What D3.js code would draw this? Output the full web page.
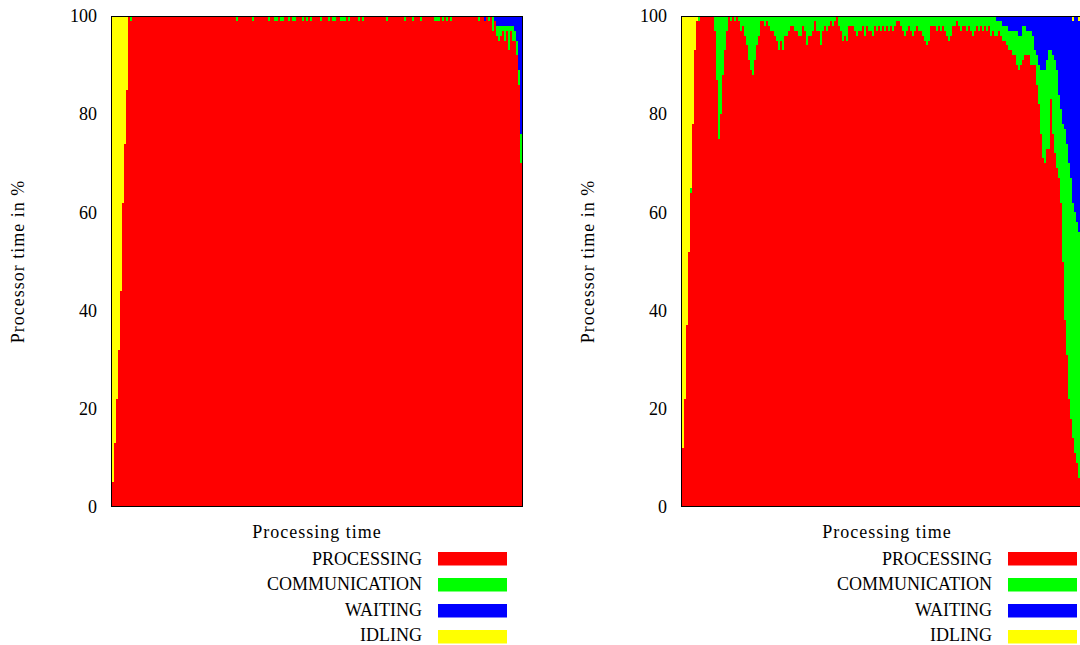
<!DOCTYPE html>
<html>
<head>
<meta charset="utf-8">
<script src="https://cdn.jsdelivr.net/npm/d3@7"></script>
<style>
  html, body { margin: 0; padding: 0; background: #fff; }
  svg { display: block; font-family: "Liberation Serif", "Times New Roman", serif; }
</style>
</head>
<body>
<svg id="chart" width="1080" height="645"></svg>
<script>
// Processor state shares (percent) per time step, two runs side by side.
const timeSteps = 205;
const yTicks = [0, 20, 40, 60, 80, 100];
const stateKeys = ["processing", "communication", "waiting", "idling"];
const legendLabels = ["PROCESSING", "COMMUNICATION", "WAITING", "IDLING"];
const stateColors = ["#ff0000", "#00ff00", "#0000ff", "#ffff00"];
const yTitle = "Processor time in %";
const xTitle = "Processing time";

// Run 1
const leftProcessing = [
  5,13,22,32,44,62,74,85,100,99,
  100,100,100,100,100,100,100,100,100,100,
  100,100,100,100,100,100,100,100,100,100,
  100,100,100,100,100,100,100,100,100,100,
  100,100,100,100,100,100,100,100,100,100,
  100,100,100,100,100,100,100,100,100,100,
  100,100,99,100,100,100,100,100,100,100,
  99,100,100,100,100,100,100,100,99,100,
  100,99,99,100,99,99,100,100,99,100,
  99,99,100,100,100,99,100,99,100,99,
  100,100,100,100,99,100,100,100,99,100,
  99,99,100,100,99,99,99,100,99,100,
  100,100,100,99,100,99,100,100,100,100,
  100,100,100,100,100,100,100,99,100,100,
  100,100,100,100,100,100,99,100,100,100,
  99,100,100,100,99,100,100,100,100,100,
  100,99,99,99,100,99,100,99,100,99,
  100,100,100,100,100,100,100,100,100,100,
  100,100,100,99,100,100,99,100,99,100,
  97,99,96,95,96,97,95,97,93,97,
  95,95,92,86,70
];
const leftCommunication = [
  0,0,0,0,0,0,0,0,0,1,
  0,0,0,0,0,0,0,0,0,0,
  0,0,0,0,0,0,0,0,0,0,
  0,0,0,0,0,0,0,0,0,0,
  0,0,0,0,0,0,0,0,0,0,
  0,0,0,0,0,0,0,0,0,0,
  0,0,1,0,0,0,0,0,0,0,
  1,0,0,0,0,0,0,0,1,0,
  0,1,1,0,1,1,0,0,1,0,
  1,1,0,0,0,1,0,1,0,1,
  0,0,0,0,1,0,0,0,1,0,
  1,1,0,0,1,1,1,0,1,0,
  0,0,0,1,0,1,0,0,0,0,
  0,0,0,0,0,0,0,1,0,0,
  0,0,0,0,0,0,1,0,0,0,
  1,0,0,0,1,0,0,0,0,0,
  0,1,1,1,0,1,0,1,0,1,
  0,0,0,0,0,0,0,0,0,0,
  0,0,0,1,0,0,0,0,1,0,
  3,0,2,3,2,1,3,1,5,1,
  3,2,3,3,6
];
const leftWaiting = [
  0,0,0,0,0,0,0,0,0,0,
  0,0,0,0,0,0,0,0,0,0,
  0,0,0,0,0,0,0,0,0,0,
  0,0,0,0,0,0,0,0,0,0,
  0,0,0,0,0,0,0,0,0,0,
  0,0,0,0,0,0,0,0,0,0,
  0,0,0,0,0,0,0,0,0,0,
  0,0,0,0,0,0,0,0,0,0,
  0,0,0,0,0,0,0,0,0,0,
  0,0,0,0,0,0,0,0,0,0,
  0,0,0,0,0,0,0,0,0,0,
  0,0,0,0,0,0,0,0,0,0,
  0,0,0,0,0,0,0,0,0,0,
  0,0,0,0,0,0,0,0,0,0,
  0,0,0,0,0,0,0,0,0,0,
  0,0,0,0,0,0,0,0,0,0,
  0,0,0,0,0,0,0,0,0,0,
  0,0,0,0,0,0,0,0,0,0,
  0,0,0,0,0,0,1,0,0,0,
  0,1,2,2,2,2,2,2,2,2,
  2,3,5,11,24
];
const leftIdling = [
  95,87,78,68,56,38,26,15,0,0,
  0,0,0,0,0,0,0,0,0,0,
  0,0,0,0,0,0,0,0,0,0,
  0,0,0,0,0,0,0,0,0,0,
  0,0,0,0,0,0,0,0,0,0,
  0,0,0,0,0,0,0,0,0,0,
  0,0,0,0,0,0,0,0,0,0,
  0,0,0,0,0,0,0,0,0,0,
  0,0,0,0,0,0,0,0,0,0,
  0,0,0,0,0,0,0,0,0,0,
  0,0,0,0,0,0,0,0,0,0,
  0,0,0,0,0,0,0,0,0,0,
  0,0,0,0,0,0,0,0,0,0,
  0,0,0,0,0,0,0,0,0,0,
  0,0,0,0,0,0,0,0,0,0,
  0,0,0,0,0,0,0,0,0,0,
  0,0,0,0,0,0,0,0,0,0,
  0,0,0,0,0,0,0,0,0,0,
  0,0,0,0,0,0,0,0,0,0,
  0,0,0,0,0,0,0,0,0,0,
  0,0,0,0,0
];

// Run 2
const rightProcessing = [
  12,22,37,52,64,78,93,99,99,100,
  100,100,100,100,100,100,97,87,75,80,
  88,93,97,100,99,100,99,100,99,97,
  98,96,94,91,89,88,91,94,96,99,
  99,98,99,98,97,97,96,95,93,95,
  93,96,96,97,98,98,97,97,96,96,
  98,97,94,96,96,97,99,97,97,94,
  97,98,97,98,99,98,99,100,98,97,
  95,96,95,98,98,98,97,96,97,97,
  98,96,98,97,97,96,98,97,98,97,
  98,97,98,97,98,97,98,99,99,98,
  97,96,97,98,97,96,97,98,97,97,
  96,95,94,95,98,98,98,97,98,97,
  98,97,96,95,96,98,98,99,98,97,
  98,98,97,98,97,96,97,98,97,98,
  97,98,97,98,96,97,96,96,97,96,
  95,95,94,93,93,92,92,90,89,90,
  91,92,92,92,90,90,90,86,82,76,
  71,70,73,73,83,76,72,69,67,62,
  50,38,31,22,18,14,11,9,6
];
const rightCommunication = [
  0,0,0,0,1,0,0,0,1,0,
  0,0,0,0,0,0,3,13,25,20,
  12,7,3,0,1,0,1,0,1,3,
  2,4,6,9,11,12,9,6,4,1,
  1,2,1,2,3,3,4,5,7,5,
  7,4,4,3,2,2,3,3,4,4,
  2,3,6,4,4,3,1,3,3,6,
  3,2,3,2,1,2,1,0,2,3,
  5,4,5,2,2,2,3,4,3,3,
  2,4,2,3,3,4,2,3,2,3,
  2,3,2,3,2,3,2,1,1,2,
  3,4,3,2,3,4,3,2,3,3,
  4,5,6,5,2,2,2,3,2,3,
  2,3,4,5,4,2,2,1,2,3,
  2,2,3,2,3,4,3,2,3,2,
  3,2,3,2,4,3,4,3,2,3,
  3,3,4,4,4,5,5,7,7,6,
  7,6,5,5,7,6,3,6,8,13,
  18,19,18,20,10,16,19,20,17,19,
  28,39,43,48,49,48,49,49,50
];
const rightWaiting = [
  0,0,0,0,0,0,0,0,0,0,
  0,0,0,0,0,0,0,0,0,0,
  0,0,0,0,0,0,0,0,0,0,
  0,0,0,0,0,0,0,0,0,0,
  0,0,0,0,0,0,0,0,0,0,
  0,0,0,0,0,0,0,0,0,0,
  0,0,0,0,0,0,0,0,0,0,
  0,0,0,0,0,0,0,0,0,0,
  0,0,0,0,0,0,0,0,0,0,
  0,0,0,0,0,0,0,0,0,0,
  0,0,0,0,0,0,0,0,0,0,
  0,0,0,0,0,0,0,0,0,0,
  0,0,0,0,0,0,0,0,0,0,
  0,0,0,0,0,0,0,0,0,0,
  0,0,0,0,0,0,0,0,0,0,
  0,0,0,0,0,0,0,1,1,1,
  2,2,2,3,3,3,3,3,4,4,
  2,2,3,3,3,4,7,8,10,11,
  11,11,9,7,7,8,9,11,16,19,
  22,23,26,30,33,37,40,42,43
];
const rightIdling = [
  88,78,63,48,35,22,7,1,0,0,
  0,0,0,0,0,0,0,0,0,0,
  0,0,0,0,0,0,0,0,0,0,
  0,0,0,0,0,0,0,0,0,0,
  0,0,0,0,0,0,0,0,0,0,
  0,0,0,0,0,0,0,0,0,0,
  0,0,0,0,0,0,0,0,0,0,
  0,0,0,0,0,0,0,0,0,0,
  0,0,0,0,0,0,0,0,0,0,
  0,0,0,0,0,0,0,0,0,0,
  0,0,0,0,0,0,0,0,0,0,
  0,0,0,0,0,0,0,0,0,0,
  0,0,0,0,0,0,0,0,0,0,
  0,0,0,0,0,0,0,0,0,0,
  0,0,0,0,0,0,0,0,0,0,
  0,0,0,0,0,0,0,0,0,0,
  0,0,0,0,0,0,0,0,0,0,
  0,0,0,0,0,0,0,0,0,0,
  0,0,0,0,0,0,0,0,0,0,
  0,0,0,0,0,1,0,0,1
];

const panels = [
  { offset: 0,   series: [leftProcessing, leftCommunication, leftWaiting, leftIdling] },
  { offset: 570, series: [rightProcessing, rightCommunication, rightWaiting, rightIdling] }
];

const svg = d3.select("#chart");
const fontSize = 18;
const plot = { left: 112, right: 522, top: 16, bottom: 507 };

panels.forEach(panel => {
  const g = svg.append("g").attr("transform", `translate(${panel.offset},0)`);

  const x = d3.scaleLinear().domain([0, timeSteps]).range([plot.left, plot.right]);
  const y = d3.scaleLinear().domain([0, 100]).range([plot.bottom, plot.top]);

  const rows = panel.series[0].map((_, i) => {
    const row = { t: i };
    stateKeys.forEach((k, j) => { row[k] = panel.series[j][i]; });
    return row;
  });
  const layers = d3.stack().keys(stateKeys)(rows);

  // Paint the top layer first; each column runs down to the baseline and is
  // overpainted by the layers below it, so no seams appear between states.
  for (let k = layers.length - 1; k >= 0; k--) {
    g.append("g")
      .attr("fill", stateColors[k])
      .selectAll("rect")
      .data(layers[k].filter(d => d[1] - d[0] > 0))
      .join("rect")
      .attr("shape-rendering", "crispEdges")
      .attr("x", d => x(d.data.t))
      .attr("width", d => x(d.data.t + 1) - x(d.data.t))
      .attr("y", d => y(d[1]))
      .attr("height", d => y(0) - y(d[1]));
  }

  // Plot frame
  g.append("rect")
    .attr("x", plot.left - 0.5).attr("y", plot.top + 0.5)
    .attr("width", plot.right - plot.left + 1).attr("height", plot.bottom - plot.top - 1)
    .attr("fill", "none").attr("stroke", "#000").attr("stroke-width", 1);

  // Y axis labels
  const axis = g.append("g")
    .attr("transform", `translate(${plot.left},0)`)
    .call(d3.axisLeft(y).tickValues(yTicks).tickSize(0).tickPadding(15));
  axis.select(".domain").remove();
  axis.attr("font-family", null).attr("font-size", fontSize);
  axis.selectAll("text").attr("fill", "#000");

  // Axis titles
  g.append("text")
    .attr("transform", `translate(23.5,${(plot.top + plot.bottom) / 2}) rotate(-90)`)
    .attr("text-anchor", "middle")
    .attr("font-size", fontSize)
    .attr("letter-spacing", 1)
    .text(yTitle);

  g.append("text")
    .attr("x", (plot.left + plot.right) / 2)
    .attr("y", 538)
    .attr("text-anchor", "middle")
    .attr("font-size", fontSize)
    .attr("letter-spacing", 1)
    .text(xTitle);

  // Legend
  const legend = g.append("g");
  legendLabels.forEach((label, i) => {
    legend.append("text")
      .attr("x", 422).attr("y", 564.5 + i * 25.6)
      .attr("text-anchor", "end")
      .attr("font-size", fontSize)
      .text(label);
    legend.append("rect")
      .attr("x", 438).attr("y", 552 + i * 26)
      .attr("width", 69).attr("height", 13.5)
      .attr("fill", stateColors[i]);
  });
});
</script>
</body>
</html>
